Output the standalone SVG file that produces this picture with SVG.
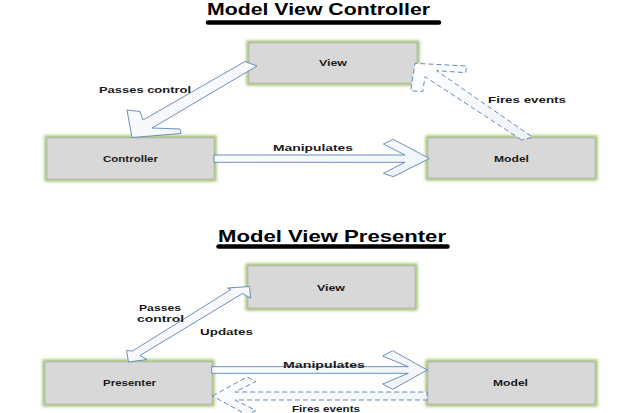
<svg xmlns="http://www.w3.org/2000/svg" width="620" height="413" viewBox="0 0 620 413">
<defs>
<filter id="blur" x="-10%" y="-20%" width="120%" height="140%"><feGaussianBlur stdDeviation="1.4"/></filter>
<linearGradient id="ag" x1="0" y1="0" x2="1" y2="1"><stop offset="0" stop-color="#ffffff"/><stop offset="1" stop-color="#eef2f7"/></linearGradient>
</defs>
<style>
.title{font-family:"Liberation Sans",Arial,sans-serif;font-weight:bold;font-size:17px;fill:#000}
.ul{stroke:#000;stroke-width:4.5;stroke-linecap:round}
.glow{fill:none;stroke:#9dbd6e;stroke-width:5;filter:url(#blur)}
.box{fill:#d8d8d8;stroke:#bdbdbd;stroke-width:1}
.nl{font-family:"Liberation Sans",Arial,sans-serif;font-weight:bold;font-size:8.5px;fill:#1a1a1a}
.el{font-family:"Liberation Sans",Arial,sans-serif;font-weight:bold;font-size:9.5px;fill:#1a1a1a}
.arr{fill:url(#ag);stroke:#5a85b3;stroke-width:0.9;stroke-linejoin:miter}
.dash{fill:url(#ag);stroke:#4f7fb0;stroke-width:0.9;stroke-dasharray:5 3}
</style>
<rect width="620" height="413" fill="#fff"/>

<g id="title-mvc">
<text class="title" x="207" y="15" textLength="223" lengthAdjust="spacingAndGlyphs">Model View Controller</text>
<line class="ul" x1="208" y1="22.5" x2="439" y2="22.5"/>
</g>
<g id="title-mvp">
<text class="title" x="218" y="242" textLength="228" lengthAdjust="spacingAndGlyphs">Model View Presenter</text>
<line class="ul" x1="218.5" y1="246.5" x2="447.5" y2="246.5"/>
</g>

<g id="mvc-view">
<rect class="glow" x="249" y="43" width="168" height="40"/>
<rect class="box" x="249" y="43" width="168" height="40"/>
<text class="nl" x="319" y="65.5" textLength="28" lengthAdjust="spacingAndGlyphs">View</text>
</g>
<g id="mvc-controller">
<rect class="glow" x="47" y="138" width="167" height="41"/>
<rect class="box" x="47" y="138" width="167" height="41"/>
<text class="nl" x="103" y="161.5" textLength="55" lengthAdjust="spacingAndGlyphs">Controller</text>
</g>
<g id="mvc-model">
<rect class="glow" x="428" y="138" width="167" height="40"/>
<rect class="box" x="428" y="138" width="167" height="40"/>
<text class="nl" x="494" y="161.5" textLength="35" lengthAdjust="spacingAndGlyphs">Model</text>
</g>

<g id="mvp-view">
<rect class="glow" x="248" y="266" width="167" height="42"/>
<rect class="box" x="248" y="266" width="167" height="42"/>
<text class="nl" x="317" y="290.5" textLength="28" lengthAdjust="spacingAndGlyphs">View</text>
</g>
<g id="mvp-presenter">
<rect class="glow" x="45" y="362" width="167" height="42"/>
<rect class="box" x="45" y="362" width="167" height="42"/>
<text class="nl" x="103" y="386" textLength="53" lengthAdjust="spacingAndGlyphs">Presenter</text>
</g>
<g id="mvp-model">
<rect class="glow" x="428" y="362" width="167" height="42"/>
<rect class="box" x="428" y="362" width="167" height="42"/>
<text class="nl" x="493" y="386" textLength="35" lengthAdjust="spacingAndGlyphs">Model</text>
</g>

<g id="connectors">
<polygon class="arr" points="245,61.5 143,120 140,111.5 127,110 132,137.5 181,133.5 180,129 152,128 257,66"/>
<polygon class="arr" points="214,155 405,155 383.3,144 393.3,139.3 429.3,158.5 393.3,176.7 383.3,173.3 405,162.3 214,162.3"/>
<polygon class="dash" points="521.7,140 425,76.7 422.7,91.7 410.7,90.7 415,63.3 466.7,66 465.7,72.7 436.7,70.7 532.7,137.3"/>
<polygon class="arr" points="128.5,362 126.5,350.5 132.5,351 231,289.5 227.5,288 249.5,286.5 250.5,298 242.5,293.5 140,355.5 147,359.5"/>
<polygon class="arr" points="211.7,366.7 408.3,366.7 382.7,356 392.7,350.7 427.3,370 392.7,389.3 382.7,384 408.3,373.3 211.7,373.3"/>
<polygon class="dash" points="212.5,396 247,377 256,381.5 235,392 427,392 427,400 235,400 256,410.5 247,415"/>
<text class="el" x="99" y="92.5" textLength="92" lengthAdjust="spacingAndGlyphs">Passes control</text>
<text class="el" x="273" y="150.5" textLength="80" lengthAdjust="spacingAndGlyphs">Manipulates</text>
<text class="el" x="488" y="102.5" textLength="78" lengthAdjust="spacingAndGlyphs">Fires events</text>
<text class="el" x="139" y="311" textLength="42" lengthAdjust="spacingAndGlyphs">Passes</text>
<text class="el" x="137" y="321.5" textLength="47" lengthAdjust="spacingAndGlyphs">control</text>
<text class="el" x="200" y="334.5" textLength="53" lengthAdjust="spacingAndGlyphs">Updates</text>
<text class="el" x="283" y="367.5" textLength="82" lengthAdjust="spacingAndGlyphs">Manipulates</text>
<text class="el" x="292" y="411.5" textLength="68" lengthAdjust="spacingAndGlyphs">Fires events</text>
</g>
</svg>
